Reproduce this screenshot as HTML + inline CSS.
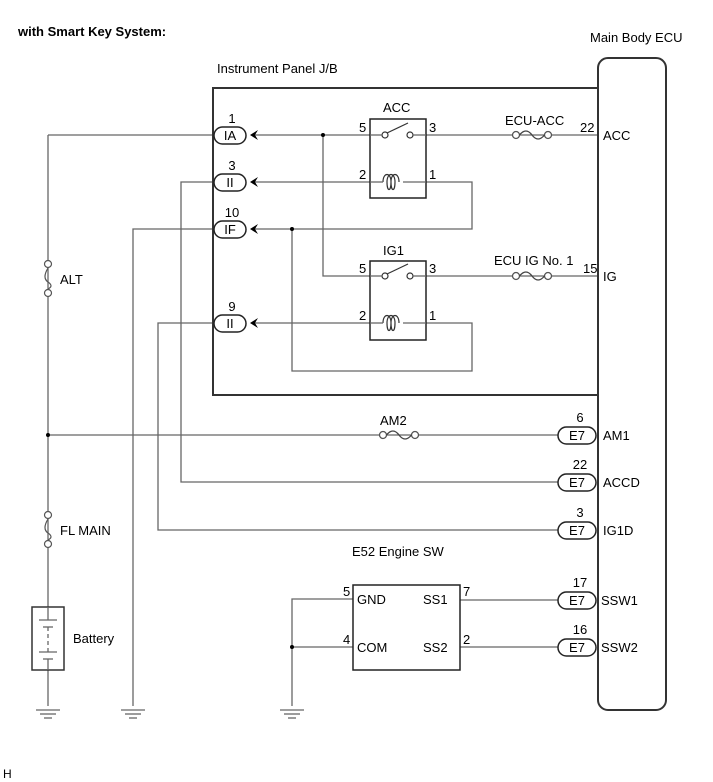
<!DOCTYPE html>
<html><head><meta charset="utf-8"><style>
html,body{margin:0;padding:0;background:#fff;}
svg{display:block;font-family:"Liberation Sans",Arial,sans-serif;}
</style></head><body>
<svg width="713" height="782" viewBox="0 0 713 782" xmlns="http://www.w3.org/2000/svg">
<defs>
<g id="gnd"><line x1="-12" y1="0" x2="12" y2="0"/><line x1="-8" y1="4" x2="8" y2="4"/><line x1="-4" y1="8" x2="4" y2="8"/></g>
<g id="fuseH"><circle cx="0" cy="0" r="3.5" fill="#fff"/><circle cx="32" cy="0" r="3.5" fill="#fff"/><path d="M3.5,0 Q10,-8 16,0 Q22,8 28.5,0" fill="none" stroke="#444"/></g>
<path id="arr" d="M0,0 l8,-5 l-3,5 l3,5 z"/>
</defs>
<text x="18" y="36" font-size="13" font-weight="bold">with Smart Key System:</text>
<text x="3" y="778" font-size="12">H</text>
<text x="217" y="73" font-size="13">Instrument Panel J/B</text>
<text x="590" y="42" font-size="13">Main Body ECU</text>

<g stroke="#666" stroke-width="1.3" fill="none">
<line x1="48" y1="135" x2="48" y2="607"/>
<line x1="48" y1="670" x2="48" y2="706"/>
<line x1="48" y1="135" x2="214" y2="135"/>
<line x1="48" y1="435" x2="558" y2="435"/>
<polyline points="214,182 181,182 181,482 558,482"/>
<polyline points="214,229 133,229 133,706"/>
<polyline points="214,323 158,323 158,530 558,530"/>
<line x1="255" y1="135" x2="370" y2="135"/>
<polyline points="323,135 323,276 370,276"/>
<line x1="255" y1="182" x2="370" y2="182"/>
<polyline points="426,182 472,182 472,229 255,229"/>
<polyline points="292,229 292,371 472,371 472,323 426,323"/>
<line x1="255" y1="323" x2="370" y2="323"/>
<line x1="426" y1="135" x2="598" y2="135"/>
<line x1="426" y1="276" x2="598" y2="276"/>
<polyline points="353,599 292,599 292,706"/>
<line x1="292" y1="647" x2="353" y2="647"/>
<line x1="460" y1="600" x2="558" y2="600"/>
<line x1="460" y1="647" x2="558" y2="647"/>
</g>
<g stroke="#555" stroke-width="1.3" fill="#fff">
<use href="#fuseH" x="516" y="135"/>
<use href="#fuseH" x="516" y="276"/>
<use href="#fuseH" x="383" y="435"/>
</g>
<g stroke="#555" stroke-width="1.2" fill="#fff">
<circle cx="48" cy="264" r="3.5"/><circle cx="48" cy="293" r="3.5"/>
<path d="M48,268 Q42,278 48,282 Q54,286 48,289" fill="none"/>
<circle cx="48" cy="515" r="3.5"/><circle cx="48" cy="544" r="3.5"/>
<path d="M48,519 Q42,529 48,533 Q54,537 48,540" fill="none"/>
</g>
<text x="60" y="284" font-size="13">ALT</text>
<text x="60" y="535" font-size="13">FL MAIN</text>
<rect x="32" y="607" width="32" height="63" fill="#fff" stroke="#333" stroke-width="1.5"/>
<g stroke="#666" stroke-width="1.3">
<line x1="48" y1="607" x2="48" y2="620"/><line x1="39" y1="620" x2="57" y2="620"/>
<line x1="43" y1="627" x2="53" y2="627"/><line x1="48" y1="627" x2="48" y2="652" stroke-dasharray="4,3"/>
<line x1="39" y1="652" x2="57" y2="652"/><line x1="43" y1="659" x2="53" y2="659"/><line x1="48" y1="659" x2="48" y2="670"/>
</g>
<text x="73" y="643" font-size="13">Battery</text>
<g stroke="#666" stroke-width="1.3"><use href="#gnd" x="48" y="710"/><use href="#gnd" x="133" y="710"/><use href="#gnd" x="292" y="710"/></g>
<g fill="#000"><circle cx="48" cy="435" r="2"/><circle cx="323" cy="135" r="2"/><circle cx="292" cy="229" r="2"/><circle cx="292" cy="647" r="2"/></g>

<polyline points="598,88 213,88 213,395 598,395" fill="none" stroke="#333" stroke-width="2"/>
<rect x="598" y="58" width="68" height="652" rx="10" fill="none" stroke="#333" stroke-width="2"/>

<g font-size="13" text-anchor="middle">
<g stroke="#222" stroke-width="1.5" fill="#fff">
<rect x="214" y="127" width="32" height="17" rx="8.5"/>
<rect x="214" y="174" width="32" height="17" rx="8.5"/>
<rect x="214" y="221" width="32" height="17" rx="8.5"/>
<rect x="214" y="315" width="32" height="17" rx="8.5"/>
</g>
<text x="230" y="140">IA</text><text x="230" y="187">II</text><text x="230" y="234">IF</text><text x="230" y="328">II</text>
<text x="232" y="123">1</text><text x="232" y="170">3</text><text x="232" y="217">10</text><text x="232" y="311">9</text>
</g>
<g fill="#000">
<use href="#arr" x="250" y="135"/><use href="#arr" x="250" y="182"/><use href="#arr" x="250" y="229"/><use href="#arr" x="250" y="323"/>
</g>
<g stroke="#222" stroke-width="1.5" fill="none">
<rect x="370" y="119" width="56" height="79"/>
<rect x="370" y="261" width="56" height="79"/>
</g>
<g stroke="#333" stroke-width="1.2" fill="#fff">
<circle cx="385" cy="135" r="3"/><circle cx="410" cy="135" r="3"/><line x1="387" y1="133" x2="408" y2="123"/>
<circle cx="385" cy="276" r="3"/><circle cx="410" cy="276" r="3"/><line x1="387" y1="274" x2="408" y2="264"/>
<path d="M383,182 c0,-10 8,-10 8,0 c0,10 -4,10 -4,0 c0,-10 8,-10 8,0 c0,10 -4,10 -4,0 c0,-10 8,-10 8,0" fill="none"/>
<path d="M383,323 c0,-10 8,-10 8,0 c0,10 -4,10 -4,0 c0,-10 8,-10 8,0 c0,10 -4,10 -4,0 c0,-10 8,-10 8,0" fill="none"/>
</g>
<g stroke="#666" stroke-width="1.3"><line x1="370" y1="182" x2="383" y2="182"/><line x1="403" y1="182" x2="426" y2="182"/><line x1="370" y1="323" x2="383" y2="323"/><line x1="403" y1="323" x2="426" y2="323"/><line x1="370" y1="135" x2="382" y2="135"/><line x1="413" y1="135" x2="426" y2="135"/><line x1="370" y1="276" x2="382" y2="276"/><line x1="413" y1="276" x2="426" y2="276"/></g>
<g font-size="13">
<text x="383" y="112">ACC</text><text x="383" y="255">IG1</text>
<text x="359" y="132">5</text><text x="429" y="132">3</text><text x="359" y="179">2</text><text x="429" y="179">1</text>
<text x="359" y="273">5</text><text x="429" y="273">3</text><text x="359" y="320">2</text><text x="429" y="320">1</text>
<text x="505" y="125">ECU-ACC</text><text x="494" y="265">ECU IG No. 1</text><text x="380" y="425">AM2</text>
<text x="580" y="132">22</text><text x="603" y="140">ACC</text>
<text x="583" y="273">15</text><text x="603" y="281">IG</text>
</g>
<g font-size="13" text-anchor="middle">
<g stroke="#222" stroke-width="1.5" fill="#fff">
<rect x="558" y="427" width="38" height="17" rx="8.5"/>
<rect x="558" y="474" width="38" height="17" rx="8.5"/>
<rect x="558" y="522" width="38" height="17" rx="8.5"/>
<rect x="558" y="592" width="38" height="17" rx="8.5"/>
<rect x="558" y="639" width="38" height="17" rx="8.5"/>
</g>
<text x="577" y="440">E7</text><text x="577" y="487">E7</text><text x="577" y="535">E7</text><text x="577" y="605">E7</text><text x="577" y="652">E7</text>
<text x="580" y="422">6</text><text x="580" y="469">22</text><text x="580" y="517">3</text><text x="580" y="587">17</text><text x="580" y="634">16</text>
</g>
<g font-size="13">
<text x="603" y="440">AM1</text><text x="603" y="487">ACCD</text><text x="603" y="535">IG1D</text><text x="601" y="605">SSW1</text><text x="601" y="652">SSW2</text>
</g>
<rect x="353" y="585" width="107" height="85" fill="none" stroke="#222" stroke-width="1.5"/>
<g font-size="13">
<text x="352" y="556">E52 Engine SW</text>
<text x="357" y="604">GND</text><text x="357" y="652">COM</text>
<text x="423" y="604">SS1</text><text x="423" y="652">SS2</text>
<text x="343" y="596">5</text><text x="343" y="644">4</text><text x="463" y="596">7</text><text x="463" y="644">2</text>
</g>
</svg>
</body></html>
